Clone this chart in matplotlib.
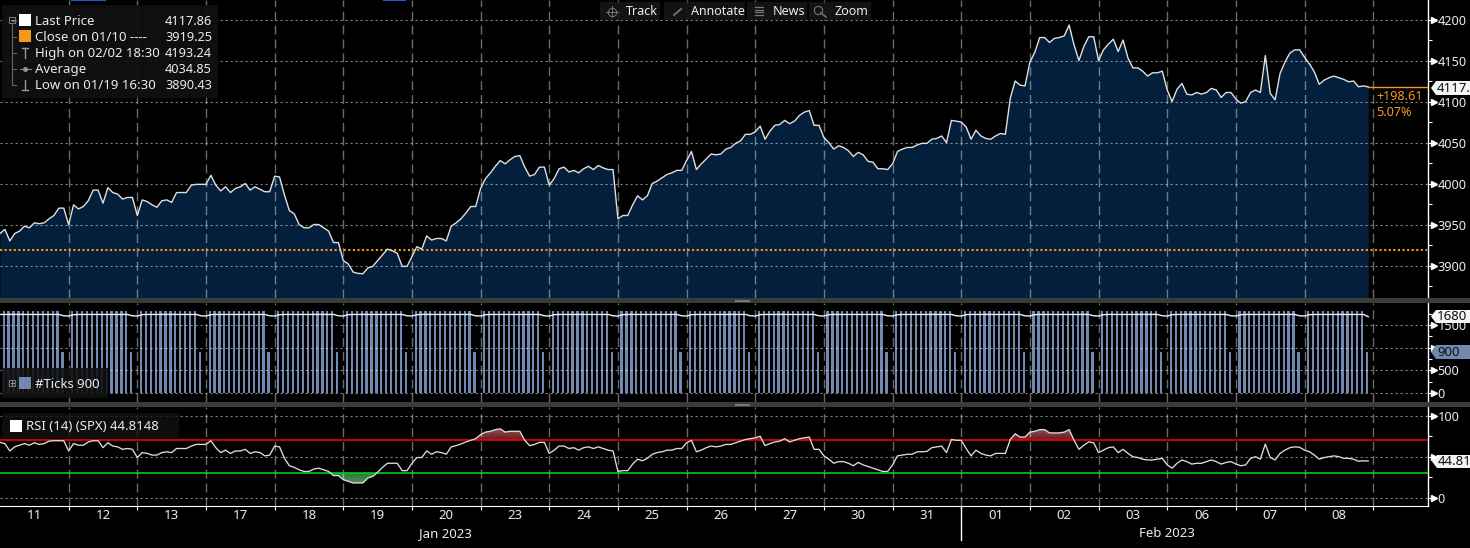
import numpy as np
import matplotlib
matplotlib.use("Agg")
import matplotlib.pyplot as plt
from matplotlib.colors import LinearSegmentedColormap
from matplotlib.patches import Rectangle, Polygon
from matplotlib.path import Path
from matplotlib.ticker import FixedLocator

plt.rcParams["font.family"] = ["Noto Sans", "DejaVu Sans"]

# ── Dados ──────────────────────────────────────────────────
price = [
    3939, 3944, 3930, 3939, 3942, 3948, 3946, 3952, 3951, 3952, 3957, 3961, 3970, 3970,
    3950, 3974, 3969, 3972, 3979, 3992, 3992, 3976, 3995, 3989, 3987, 3981, 3983, 3983,
    3961, 3980, 3978, 3974, 3971, 3979, 3980, 3977, 3989, 3989, 3989, 3998, 3999, 3999,
    3999, 4010, 3998, 3991, 3996, 3989, 3994, 3996, 4000, 3992, 3996, 3993, 3990, 3990,
    4009, 4008, 3986, 3967, 3963, 3950, 3946, 3946, 3950, 3950, 3946, 3942, 3928, 3928,
    3906, 3902, 3892, 3890.43, 3890, 3897, 3899, 3906, 3913, 3920, 3918, 3915, 3899, 3899,
    3911, 3923, 3920, 3936, 3931, 3933, 3933, 3930, 3948, 3952, 3957, 3964, 3972, 3972,
    3994, 4006, 4013, 4021, 4028, 4024, 4029, 4033, 4034, 4020, 4009, 4011, 4020, 4020,
    3998, 4006, 4018, 4020, 4014, 4016, 4013, 4018, 4021, 4017, 4022, 4019, 4017, 4017,
    3957, 3961, 3961, 3974, 3985, 3980, 3985, 4000, 4003, 4007, 4011, 4013, 4016, 4016,
    4028, 4039, 4017, 4024, 4030, 4036, 4035, 4036, 4042, 4044, 4049, 4052, 4060, 4060,
    4063, 4070, 4054, 4064, 4071, 4072, 4077, 4073, 4076, 4083, 4087, 4089, 4071, 4071,
    4056, 4050, 4042, 4046, 4044, 4040, 4033, 4038, 4035, 4027, 4026, 4018, 4018, 4017,
    4024, 4039, 4042, 4044, 4044, 4047, 4049, 4049, 4054, 4055, 4058, 4050, 4077, 4076,
    4075, 4069, 4054, 4065, 4058, 4055, 4054, 4058, 4061, 4060, 4104, 4125, 4120, 4119,
    4148, 4160, 4178, 4178, 4172, 4177, 4178, 4180, 4193.24, 4169, 4150, 4167, 4179, 4179,
    4150, 4163, 4170, 4176, 4161, 4175, 4153, 4141, 4141, 4137, 4131, 4135, 4135, 4137,
    4114, 4100, 4115, 4122, 4109, 4108, 4111, 4109, 4111, 4116, 4114, 4105, 4111, 4111,
    4103, 4098, 4100, 4111, 4114, 4111, 4156, 4110, 4102, 4134, 4148, 4159, 4163, 4163,
    4154, 4146, 4136, 4121, 4126, 4129, 4131, 4129, 4127, 4124, 4125, 4118, 4119, 4117.86,
]
rsi = [
    67.5, 66, 57, 62, 64, 66, 64, 67, 65, 66, 69, 69.5, 69.5, 69.5,
    57, 66, 64, 64, 68, 69.5, 69.5, 61, 67, 63, 62, 59, 60, 59,
    49, 55, 54, 52, 52, 55, 56, 55, 60, 60, 60, 63, 65, 65,
    65, 69.5, 61, 55, 58, 54, 57, 57, 59, 54, 56, 55, 51, 52,
    63, 62, 48, 39, 37, 34, 32, 32, 35, 36, 34, 32, 27, 27,
    22, 20, 18, 18, 18, 24, 26, 31, 37, 42, 42, 42, 33, 33,
    42, 49, 49, 57, 53, 56, 55, 53, 62, 63.5, 65.5, 68, 70, 72,
    77, 80, 81, 83, 84, 80, 81, 81, 81, 70, 63.5, 65, 67.5, 67.5,
    54, 58, 63, 63, 60, 61, 58, 61, 62, 60, 62, 60, 58, 57,
    32, 33, 33, 41, 47, 45, 48, 53, 55, 56, 58, 58, 60, 60,
    67, 70, 56, 58, 61, 63, 62, 63, 65, 65, 67, 69, 71, 72,
    73, 75, 63.5, 66, 68, 69, 72, 68, 70, 72, 73, 74, 59, 59,
    51, 47, 42, 44, 44, 42, 39, 43, 40, 38, 36, 34, 32, 32,
    40, 51, 52, 53, 53, 56, 56, 56.5, 61, 62, 63, 55, 71, 70,
    70, 60, 51, 58, 54, 52, 51, 54, 54, 54, 71, 78, 74, 74,
    80, 81, 83, 83, 79, 79, 79, 80, 83, 70, 59, 64, 68, 67,
    55, 58, 61, 62, 55, 59, 54, 50, 49, 47, 46, 46, 47, 48,
    40, 36, 42, 46, 44, 41, 42, 42, 44, 46, 44, 41, 43, 44,
    41, 39, 40, 48, 50, 47, 65.5, 49, 46, 54, 58, 61, 62, 61.5,
    58, 56, 52, 47, 49, 50, 51, 50, 48, 48, 47, 44.5, 45, 44.81,
]
ticks_count = [
    0, 1800, 1800, 1800, 1800, 1800, 1800, 1800, 1800, 1800, 1800, 1800, 1800, 900,
    0, 1800, 1800, 1800, 1800, 1800, 1800, 1800, 1800, 1800, 1800, 1800, 1800, 900,
    0, 1800, 1800, 1800, 1800, 1800, 1800, 1800, 1800, 1800, 1800, 1800, 1800, 900,
    0, 1800, 1800, 1800, 1800, 1800, 1800, 1800, 1800, 1800, 1800, 1800, 1800, 900,
    0, 1800, 1800, 1800, 1800, 1800, 1800, 1800, 1800, 1800, 1800, 1800, 1800, 900,
    0, 1800, 1800, 1800, 1800, 1800, 1800, 1800, 1800, 1800, 1800, 1800, 1800, 900,
    0, 1800, 1800, 1800, 1800, 1800, 1800, 1800, 1800, 1800, 1800, 1800, 1800, 900,
    0, 1800, 1800, 1800, 1800, 1800, 1800, 1800, 1800, 1800, 1800, 1800, 1800, 900,
    0, 1800, 1800, 1800, 1800, 1800, 1800, 1800, 1800, 1800, 1800, 1800, 1800, 900,
    0, 1800, 1800, 1800, 1800, 1800, 1800, 1800, 1800, 1800, 1800, 1800, 1800, 900,
    0, 1800, 1800, 1800, 1800, 1800, 1800, 1800, 1800, 1800, 1800, 1800, 1800, 900,
    0, 1800, 1800, 1800, 1800, 1800, 1800, 1800, 1800, 1800, 1800, 1800, 1800, 900,
    0, 1800, 1800, 1800, 1800, 1800, 1800, 1800, 1800, 1800, 1800, 1800, 1800, 900,
    0, 1800, 1800, 1800, 1800, 1800, 1800, 1800, 1800, 1800, 1800, 1800, 1800, 900,
    0, 1800, 1800, 1800, 1800, 1800, 1800, 1800, 1800, 1800, 1800, 1800, 1800, 900,
    0, 1800, 1800, 1800, 1800, 1800, 1800, 1800, 1800, 1800, 1800, 1800, 1800, 900,
    0, 1800, 1800, 1800, 1800, 1800, 1800, 1800, 1800, 1800, 1800, 1800, 1800, 900,
    0, 1800, 1800, 1800, 1800, 1800, 1800, 1800, 1800, 1800, 1800, 1800, 1800, 900,
    0, 1800, 1800, 1800, 1800, 1800, 1800, 1800, 1800, 1800, 1800, 1800, 1800, 900,
    0, 1800, 1800, 1800, 1800, 1800, 1800, 1800, 1800, 1800, 1800, 1800, 1800, 900,
]
ticks_avg = [
    1730, 1730, 1730, 1730, 1730, 1730, 1730, 1730, 1730, 1730, 1730, 1730, 1730, 1700,
    1695, 1725, 1730, 1730, 1730, 1730, 1730, 1730, 1730, 1730, 1730, 1730, 1730, 1700,
    1695, 1725, 1730, 1730, 1730, 1730, 1730, 1730, 1730, 1730, 1730, 1730, 1730, 1700,
    1695, 1725, 1730, 1730, 1730, 1730, 1730, 1730, 1730, 1730, 1730, 1730, 1730, 1700,
    1695, 1725, 1730, 1730, 1730, 1730, 1730, 1730, 1730, 1730, 1730, 1730, 1730, 1700,
    1695, 1725, 1730, 1730, 1730, 1730, 1730, 1730, 1730, 1730, 1730, 1730, 1730, 1700,
    1695, 1725, 1730, 1730, 1730, 1730, 1730, 1730, 1730, 1730, 1730, 1730, 1730, 1700,
    1695, 1725, 1730, 1730, 1730, 1730, 1730, 1730, 1730, 1730, 1730, 1730, 1730, 1700,
    1695, 1725, 1730, 1730, 1730, 1730, 1730, 1730, 1730, 1730, 1730, 1730, 1730, 1700,
    1695, 1725, 1730, 1730, 1730, 1730, 1730, 1730, 1730, 1730, 1730, 1730, 1730, 1700,
    1695, 1725, 1730, 1730, 1730, 1730, 1730, 1730, 1730, 1730, 1730, 1730, 1730, 1700,
    1695, 1725, 1730, 1730, 1730, 1730, 1730, 1730, 1730, 1730, 1730, 1730, 1730, 1700,
    1695, 1725, 1730, 1730, 1730, 1730, 1730, 1730, 1730, 1730, 1730, 1730, 1730, 1700,
    1695, 1725, 1730, 1730, 1730, 1730, 1730, 1730, 1730, 1730, 1730, 1730, 1730, 1700,
    1695, 1725, 1730, 1730, 1730, 1730, 1730, 1730, 1730, 1730, 1730, 1730, 1730, 1700,
    1695, 1725, 1730, 1730, 1730, 1730, 1730, 1730, 1730, 1730, 1730, 1730, 1730, 1700,
    1695, 1725, 1730, 1730, 1730, 1730, 1730, 1730, 1730, 1730, 1730, 1730, 1730, 1700,
    1695, 1725, 1730, 1730, 1730, 1730, 1730, 1730, 1730, 1730, 1730, 1730, 1730, 1700,
    1695, 1725, 1730, 1730, 1730, 1730, 1730, 1730, 1730, 1730, 1730, 1730, 1730, 1700,
    1695, 1725, 1730, 1730, 1730, 1730, 1730, 1730, 1730, 1730, 1730, 1730, 1730, 1680,
]
day_labels = ["11", "12", "13", "17", "18", "19", "20", "23", "24", "25",
              "26", "27", "30", "31", "01", "02", "03", "06", "07", "08"]
prev_close = 3919.25
rsi_high = 70
rsi_low = 30
price_major = [3900, 3950, 4000, 4050, 4100, 4150, 4200]
ticks_major = [0, 500, 1000, 1500]
ticks_major_labels = ["0", "500", "", "1500"]  # 1000 fica atrás da etiqueta 900
rsi_major = [0, 50, 100]
rsi_major_labels = ["0", "", "100"]  # 50 fica atrás da etiqueta 44.81

legend_rows = [
    ("Last Price", "4117.86"),
    ("Close on 01/10 ---- ", "3919.25"),
    ("High on 02/02 18:30", "4193.24"),
    ("Average", "4034.85"),
    ("Low on 01/19 16:30", "3890.43"),
]

# ── Configurações ──────────────────────────────────────────
W, H = 1470, 548
AX_RIGHT = 1428
BAR_STEP = 68.66 / 14  # px por barra de 30 min
FS = 9.5
FS_AXIS = 9.2
TXT = "#e4edf6"
ORANGE = "#f7981d"
NAVY = "#031f3c"
BAR_BLUE = "#7189b0"
SEP = "#3b3b3b"


def make_panel(fig, top, bottom, ylim, major, minor, labels=None):
    ax = fig.add_axes([0, 1 - bottom / H, AX_RIGHT / W, (bottom - top) / H], facecolor="black")
    ax.set_xlim(0, AX_RIGHT / BAR_STEP)
    ax.set_ylim(*ylim)
    for s in ["top", "left", "bottom"]:
        ax.spines[s].set_visible(False)
    ax.spines["right"].set_color("white")
    ax.spines["right"].set_linewidth(1.0)
    ax.yaxis.tick_right()
    ax.set_yticks(major)
    if labels is not None:
        ax.set_yticklabels(labels)
    ax.yaxis.set_minor_locator(FixedLocator(minor))
    ax.tick_params(axis="y", which="major", length=3, color="white", labelcolor=TXT,
                   labelsize=FS_AXIS, pad=4)
    ax.tick_params(axis="y", which="minor", length=3, color="white", width=0.8)
    ax.set_xticks([])
    # grid feito à mão pra ficar igual ao terminal
    for v in major:
        ax.axhline(v, color="white", alpha=0.5, lw=0.8, ls=(0, (2, 2.5)), zorder=3)
    for k in range(1, 21):
        ax.axvline(k * 14, color="white", alpha=0.42, lw=1.0, ls=(0, (6.5, 3.5)), zorder=3)
    ax.plot([1.004] * len(major), major, ls="none", marker=">", ms=4, color="white",
            transform=ax.get_yaxis_transform(), clip_on=False, zorder=6)
    return ax


def gradient_fill(ax, x, y, base, where, ymin, ymax, colors):
    # preenche a área com um degradê vertical, recortado pelo polígono do fill_between
    poly = ax.fill_between(x, y, base, where=where, interpolate=True, color="none", lw=0)
    cmap = LinearSegmentedColormap.from_list("g", colors)
    xl, yl = ax.get_xlim(), ax.get_ylim()
    im = ax.imshow(np.linspace(1, 0, 32).reshape(-1, 1), extent=[xl[0], xl[1], ymin, ymax],
                   aspect="auto", cmap=cmap, origin="upper", zorder=1)
    im.set_clip_path(Path.make_compound_path(*poly.get_paths()), transform=ax.transData)
    ax.set_xlim(xl)
    ax.set_ylim(yl)


def pill(ov, x0, y0, y1, text, bg, fg="#101010"):
    mid = (y0 + y1) / 2
    ov.add_patch(Polygon([(x0, mid), (x0 + 5, y0), (W + 2, y0), (W + 2, y1), (x0 + 5, y1)],
                         closed=True, fc=bg, ec="none", zorder=8))
    ov.text(x0 + 6, mid + 0.3, text, color=fg, fontsize=FS, va="center", ha="left", zorder=9)


def main():
    x = np.arange(len(price))
    fig = plt.figure(figsize=(W / 100, H / 100), dpi=100, facecolor="black")

    # ── Preço ──
    ax1 = make_panel(fig, 0, 298, (3860.4, 4223.8), price_major, np.arange(3875, 4225, 25))
    ax1.fill_between(x, price, 3800, color=NAVY, lw=0, zorder=1)
    ax1.plot(x, price, color="#e0e0e0", lw=1.0, zorder=5)
    ax1.axhline(prev_close, xmax=0.999, color=ORANGE, lw=1.5, ls=(0, (1, 1.2)), zorder=4)
    ax1.plot([x[-1], ax1.get_xlim()[1]], [price[-1], price[-1]], color=ORANGE, lw=1.0, zorder=5)

    # ── Ticks ──
    ax2 = make_panel(fig, 303, 402, (-198, 1982), ticks_major, np.arange(250, 2000, 500),
                     ticks_major_labels)
    ax2.bar(x - 0.25, ticks_count, width=0.46, color=BAR_BLUE, lw=0, zorder=1)
    ax2.plot(x, ticks_avg, color="#f0f0f0", lw=1.0, zorder=5)

    # ── RSI ──
    ax3 = make_panel(fig, 407, 506, (-10.1, 110.6), rsi_major, [25, 75], rsi_major_labels)
    r = np.array(rsi)
    gradient_fill(ax3, x, r, rsi_high, r >= rsi_high, rsi_high, 85, ["#6a1a1e", "#925a5a"])
    gradient_fill(ax3, x, r, rsi_low, r <= rsi_low, 16, rsi_low, ["#5c8f60", "#287a34"])
    ax3.axhline(rsi_high, color="#ff0000", lw=1.1, zorder=4)
    ax3.axhline(rsi_low, color="#00e010", lw=1.1, zorder=4)
    ax3.plot(x, rsi, color="#dcdcdc", lw=0.95, zorder=5)
    ax3.spines["bottom"].set_visible(True)
    ax3.spines["bottom"].set_color("white")
    ax3.set_xticks(np.arange(14, 281, 14))
    ax3.tick_params(axis="x", which="major", length=3, color="white", labelbottom=False)
    ax3.set_xticks(np.arange(7, 280, 14), minor=True)
    ax3.set_xticklabels(day_labels, minor=True)
    ax3.tick_params(axis="x", which="minor", length=0, labelcolor=TXT, labelsize=FS, pad=2.5)

    # ── Overlay em pixels: legendas, barra de botões, etiquetas ──
    ov = fig.add_axes([0, 0, 1, 1], facecolor="none")
    ov.set_xlim(0, W)
    ov.set_ylim(H, 0)
    ov.axis("off")

    # separadores de painel
    for y0, y1 in [(298, 303), (402, 407)]:
        ov.add_patch(Rectangle((0, y0), W, y1 - y0, fc=SEP, ec="none", zorder=2))
        ov.plot([735, 749], [y0 + 1.5, y0 + 1.5], color="#777777", lw=0.8, zorder=3)
        ov.plot([735, 749], [y0 + 3.2, y0 + 3.2], color="#777777", lw=0.8, zorder=3)

    # faixas azuis no topo
    for x0, x1 in [(71, 106), (383, 406)]:
        ov.add_patch(Rectangle((x0, 0), x1 - x0, 1.2, fc="#1464c8", ec="none"))

    # legenda de preço
    ov.add_patch(Rectangle((2, 5), 216, 93, fc="#111111", ec="none", alpha=0.93, zorder=6))
    ov.add_patch(Rectangle((9.5, 16.5), 6, 6, fc="none", ec="#777777", lw=0.8, zorder=7))
    ov.plot([10.8, 14.2], [19.5, 19.5], color="#999999", lw=0.7, zorder=7)
    ov.plot([12.5, 12.5, 16], [22.5, 85, 85], color="#666666", lw=0.8, zorder=7)
    row_y = [21, 37, 53, 69, 85]
    for (name, val), y in zip(legend_rows, row_y):
        ov.text(35, y + 0.5, name, color=TXT, fontsize=FS, va="center", zorder=8)
        ov.text(165, y + 0.5, val, color=TXT, fontsize=FS_AXIS, va="center", zorder=8)
        ov.plot([12.5, 16], [y, y], color="#666666", lw=0.8, zorder=7)
    ov.add_patch(Rectangle((19, 14), 12, 12, fc="white", ec="none", zorder=8))
    ov.add_patch(Rectangle((19, 30), 12, 12, fc=ORANGE, ec="none", zorder=8))
    ov.plot([22, 28], [47.5, 47.5], color="#999999", lw=1, zorder=8)
    ov.plot([25, 25], [47.5, 58], color="#999999", lw=1, zorder=8)
    ov.plot([20, 31], [69, 69], color="#888888", lw=0.8, zorder=8)
    ov.plot([25.5], [69], marker="o", ms=2.5, color="#999999", zorder=8)
    ov.plot([22, 28], [90, 90], color="#999999", lw=1, zorder=8)
    ov.plot([25, 25], [80, 90], color="#999999", lw=1, zorder=8)

    # legenda de ticks
    ov.add_patch(Rectangle((2, 368), 106, 30, fc="#111111", ec="none", alpha=0.9, zorder=6))
    ov.add_patch(Rectangle((9.5, 380), 6, 6, fc="none", ec="#777777", lw=0.8, zorder=7))
    ov.plot([10.8, 14.2], [383, 383], color="#999999", lw=0.7, zorder=7)
    ov.plot([12.5, 12.5], [381.3, 384.7], color="#999999", lw=0.7, zorder=7)
    ov.add_patch(Rectangle((19, 377), 12, 12, fc=BAR_BLUE, ec="none", zorder=8))
    ov.text(35, 384.5, "#Ticks 900", color=TXT, fontsize=FS, va="center", zorder=8)

    # legenda do RSI
    ov.add_patch(Rectangle((2, 413), 177, 25, fc="#111111", ec="none", alpha=0.8, zorder=6))
    ov.add_patch(Rectangle((10, 420), 12, 12, fc="white", ec="none", zorder=8))
    ov.text(26, 427, "RSI (14) (SPX) 44.8148", color=TXT, fontsize=FS, va="center", zorder=8)

    # barra de botões
    buttons = [("Track", 600, 60, 626), ("Annotate", 664, 81, 691),
               ("News", 747, 60, 773), ("Zoom", 809, 62, 835)]
    for name, bx, bw, tx in buttons:
        ov.add_patch(Rectangle((bx, 2), bw, 18, fc="#151515", ec="none", alpha=0.92, zorder=6))
        ov.text(tx, 11.7, name, color=TXT, fontsize=9, va="center", zorder=8)
    ic = "#777777"
    ov.plot([612], [11.5], marker="o", ms=6, mfc="none", mec=ic, mew=0.7, zorder=8)
    ov.plot([606, 618], [11.5, 11.5], color=ic, lw=0.7, zorder=8)
    ov.plot([612, 612], [6, 17], color=ic, lw=0.7, zorder=8)
    ov.plot([674, 681], [15, 9], color=ic, lw=1.3, zorder=8)
    for yy in [7, 9.5, 12, 14.5]:
        ov.plot([755, 763], [yy, yy], color=ic, lw=0.9, zorder=8)
    ov.plot([818], [10], marker="o", ms=6, mfc="none", mec=ic, mew=0.8, zorder=8)
    ov.plot([820.5, 826], [12.5, 17], color=ic, lw=1.1, zorder=8)

    # etiquetas da direita
    pill(ov, 1431, 81, 95, "4117.86", "#f4f4f4")
    pill(ov, 1431, 310, 323, "1680", "#f4f4f4")
    pill(ov, 1431, 345, 359, "900", BAR_BLUE)
    pill(ov, 1432, 455, 468, "44.8148", "#f4f4f4")
    ov.text(1376, 96.5, "+198.61", color=ORANGE, fontsize=9.1, va="center", zorder=8)
    ov.text(1376, 112.5, "5.07%", color=ORANGE, fontsize=9.1, va="center", zorder=8)

    # eixo do tempo
    ov.text(445, 533.5, "Jan 2023", color=TXT, fontsize=FS, ha="center", va="center")
    ov.text(1167, 533.5, "Feb 2023", color=TXT, fontsize=FS, ha="center", va="center")
    ov.plot([961.3, 961.3], [506, 540], color="white", lw=1.0)

    fig.savefig("out.png", dpi=100, facecolor="black")
    plt.close(fig)


if __name__ == "__main__":
    main()
